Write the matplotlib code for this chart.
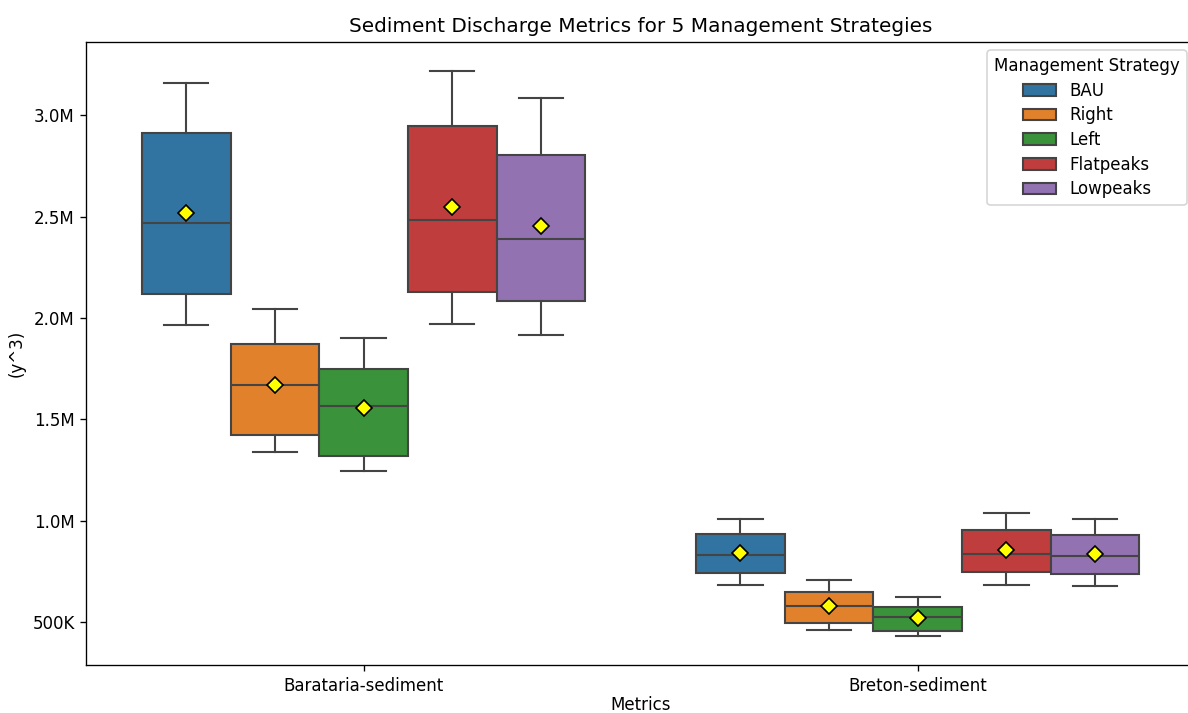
import matplotlib
matplotlib.use("Agg")
import matplotlib.pyplot as plt
from matplotlib.patches import Patch
from matplotlib.ticker import FuncFormatter
import numpy as np

metrics = ["Barataria-sediment", "Breton-sediment"]
strategies = ["BAU", "Right", "Left", "Flatpeaks", "Lowpeaks"]
colors = ["#3274a1", "#e1812c", "#3a923a", "#c03d3e", "#9372b2"]

# box stats (millions of y^3), per strategy: [Barataria, Breton]
whislo = {
    "BAU":       [1.964, 0.684],
    "Right":     [1.340, 0.462],
    "Left":      [1.248, 0.432],
    "Flatpeaks": [1.969, 0.686],
    "Lowpeaks":  [1.917, 0.678],
}
q1 = {
    "BAU":       [2.117, 0.743],
    "Right":     [1.422, 0.494],
    "Left":      [1.321, 0.457],
    "Flatpeaks": [2.126, 0.747],
    "Lowpeaks":  [2.084, 0.738],
}
med = {
    "BAU":       [2.471, 0.832],
    "Right":     [1.672, 0.580],
    "Left":      [1.564, 0.528],
    "Flatpeaks": [2.481, 0.839],
    "Lowpeaks":  [2.389, 0.826],
}
q3 = {
    "BAU":       [2.910, 0.937],
    "Right":     [1.874, 0.650],
    "Left":      [1.748, 0.576],
    "Flatpeaks": [2.949, 0.954],
    "Lowpeaks":  [2.803, 0.928],
}
whishi = {
    "BAU":       [3.159, 1.011],
    "Right":     [2.045, 0.710],
    "Left":      [1.900, 0.623],
    "Flatpeaks": [3.220, 1.037],
    "Lowpeaks":  [3.084, 1.011],
}
means = {
    "BAU":       [2.519, 0.842],
    "Right":     [1.669, 0.580],
    "Left":      [1.557, 0.523],
    "Flatpeaks": [2.546, 0.854],
    "Lowpeaks":  [2.454, 0.839],
}

line_gray = "#444444"
lw = 1.25
box_w = 0.16

fig = plt.figure(figsize=(9.9, 713 / 120), dpi=120)
ax = fig.add_axes([0.0728, 0.0673, 0.933, 0.8738])

base = np.arange(len(metrics))
for i, s in enumerate(strategies):
    stats = []
    for j in range(len(metrics)):
        stats.append({
            "whislo": whislo[s][j] * 1e6,
            "q1": q1[s][j] * 1e6,
            "med": med[s][j] * 1e6,
            "q3": q3[s][j] * 1e6,
            "whishi": whishi[s][j] * 1e6,
            "mean": means[s][j] * 1e6,
            "fliers": [],
        })
    pos = base + (i - 2) * box_w
    ax.bxp(stats, positions=pos, widths=box_w, patch_artist=True,
           showmeans=True, showfliers=False, manage_ticks=False,
           boxprops=dict(facecolor=colors[i], edgecolor=line_gray, linewidth=lw),
           medianprops=dict(color=line_gray, linewidth=lw),
           whiskerprops=dict(color=line_gray, linewidth=lw),
           capprops=dict(color=line_gray, linewidth=lw),
           meanprops=dict(marker="D", markerfacecolor="yellow",
                          markeredgecolor="black", markersize=6.5,
                          markeredgewidth=1.0))

ax.set_xlim(-0.5, len(metrics) - 0.5)
ax.set_xticks(base)
ax.set_xticklabels(metrics)


def fmt(x, pos):
    if x >= 1e6:
        return f"{x / 1e6:.1f}M"
    return f"{x / 1e3:.0f}K"


ax.yaxis.set_major_formatter(FuncFormatter(fmt))
ax.set_yticks([0.5e6, 1.0e6, 1.5e6, 2.0e6, 2.5e6, 3.0e6])
ax.set_ylim(0.2892e6, 3.361e6)

ax.set_xlabel("Metrics", labelpad=0.5)
ax.set_ylabel("(y^3)")
ax.set_title("Sediment Discharge Metrics for 5 Management Strategies")

handles = [Patch(facecolor=c, edgecolor=line_gray, linewidth=lw, label=s)
           for s, c in zip(strategies, colors)]
ax.legend(handles=handles, title="Management Strategy", loc="upper right",
          labelspacing=0.4)

fig.savefig("out.png", dpi=120)
